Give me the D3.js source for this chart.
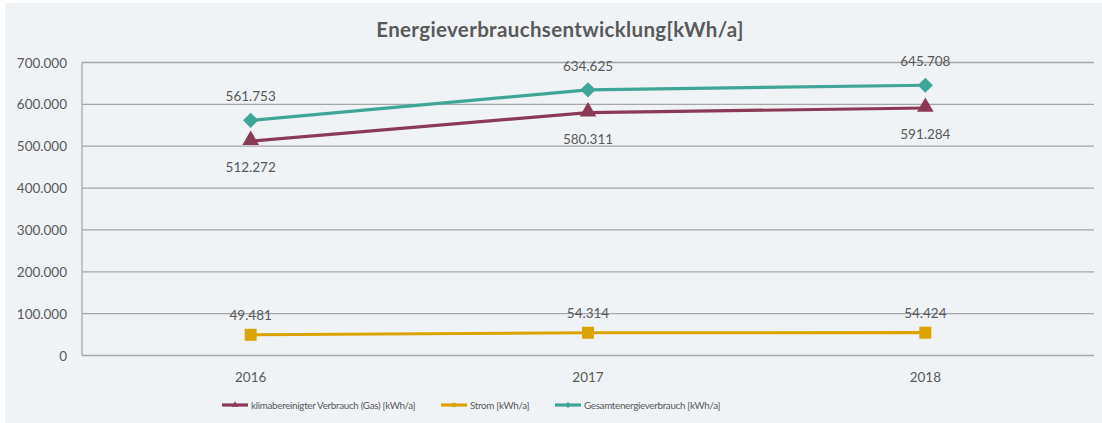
<!DOCTYPE html>
<html>
<head>
<meta charset="utf-8">
<script src="https://cdn.jsdelivr.net/npm/d3@7"></script>
<style>
  body { margin: 0; background: #fff; }
  text { font-family: Lato, "Open Sans", sans-serif; fill: #595959; }
</style>
</head>
<body>
<script>
var years = ["2016", "2017", "2018"];
var gas = [512272, 580311, 591284];
var strom = [49481, 54314, 54424];
var gesamt = [561753, 634625, 645708];
var seriesNames = ["klimabereinigter Verbrauch (Gas) [kWh/a]", "Strom [kWh/a]", "Gesamtenergieverbrauch [kWh/a]"];
var yTicks = [0, 100000, 200000, 300000, 400000, 500000, 600000, 700000];

var width = 1102,
    height = 423;

var svg = d3.select("body").append("svg")
    .attr("width", width)
    .attr("height", height);

svg.append("rect")
    .attr("x", 5).attr("y", 3)
    .attr("width", width - 5).attr("height", height - 3)
    .attr("fill", "#eff3f6");

var x = d3.scaleBand().domain(years).range([82, 1094]);
var y = d3.scaleLinear().domain([0, 700000]).range([355.5, 62.5]);

var fmt = function (v) { return v === 0 ? "0" : d3.format(",")(v).replace(/,/g, "."); };

svg.append("text")
    .attr("x", 560).attr("y", 37)
    .attr("text-anchor", "middle")
    .style("font-size", "20.5px")
    .style("letter-spacing", "0.35px")
    .style("font-weight", "bold")
    .text("Energieverbrauchsentwicklung[kWh/a]");

// grid
svg.selectAll(".grid")
    .data(yTicks)
    .enter().append("line")
    .attr("x1", 82).attr("x2", 1094)
    .attr("y1", function (d) { return y(d); })
    .attr("y2", function (d) { return y(d); })
    .attr("stroke", "#a6a6a6")
    .attr("stroke-width", 1.3);

svg.append("line")
    .attr("x1", 82).attr("x2", 82)
    .attr("y1", y(700000)).attr("y2", y(0))
    .attr("stroke", "#a6a6a6")
    .attr("stroke-width", 1.3);

svg.selectAll(".ylab")
    .data(yTicks)
    .enter().append("text")
    .attr("x", 67)
    .attr("y", function (d) { return y(d) + 5; })
    .attr("text-anchor", "end")
    .style("font-size", "13.5px")
    .text(fmt);

svg.selectAll(".xlab")
    .data(years)
    .enter().append("text")
    .attr("x", function (d) { return x(d) + x.bandwidth() / 2; })
    .attr("y", 382)
    .attr("text-anchor", "middle")
    .style("font-size", "13.5px")
    .text(function (d) { return d; });

var cx = function (i) { return x(years[i]) + x.bandwidth() / 2; };
var line = d3.line()
    .x(function (d, i) { return cx(i); })
    .y(function (d) { return y(d); });

var series = [
    { values: gas, color: "#8b3a55", symbol: d3.symbolTriangle, size: 120, rot: 0, dy: -1, labelDy: 31 },
    { values: strom, color: "#dba300", symbol: d3.symbolSquare, size: 144, rot: 0, dy: 0, labelDy: -15 },
    { values: gesamt, color: "#3fa597", symbol: d3.symbolSquare, size: 115, rot: 45, dy: 0, labelDy: -19 }
];

series.forEach(function (s) {
    svg.append("path")
        .datum(s.values)
        .attr("d", line)
        .attr("fill", "none")
        .attr("stroke", s.color)
        .attr("stroke-width", 3.2);

    svg.selectAll(null)
        .data(s.values)
        .enter().append("path")
        .attr("d", d3.symbol().type(s.symbol).size(s.size))
        .attr("transform", function (d, i) {
            return "translate(" + cx(i) + "," + (y(d) + s.dy) + ") rotate(" + s.rot + ")";
        })
        .attr("fill", s.color);

    svg.selectAll(null)
        .data(s.values)
        .enter().append("text")
        .attr("x", function (d, i) { return cx(i); })
        .attr("y", function (d) { return y(d) + s.labelDy; })
        .attr("text-anchor", "middle")
        .style("font-size", "13.5px")
        .text(fmt);
});

// legend
var legendX = [222, 441, 555];
var legend = svg.selectAll(".legend")
    .data(series)
    .enter().append("g")
    .attr("transform", function (d, i) { return "translate(" + legendX[i] + ",405)"; });

legend.append("line")
    .attr("x1", 0).attr("x2", 26)
    .attr("stroke", function (d) { return d.color; })
    .attr("stroke-width", 3.2);

legend.append("path")
    .attr("d", function (d) { return d3.symbol().type(d.symbol).size(18)(); })
    .attr("transform", function (d) { return "translate(13,0) rotate(" + d.rot + ")"; })
    .attr("fill", function (d) { return d.color; });

legend.append("text")
    .attr("x", 29).attr("y", 3.5)
    .style("font-size", "9.8px")
    .style("letter-spacing", "-0.3px")
    .text(function (d, i) { return seriesNames[i]; });
</script>
</body>
</html>
